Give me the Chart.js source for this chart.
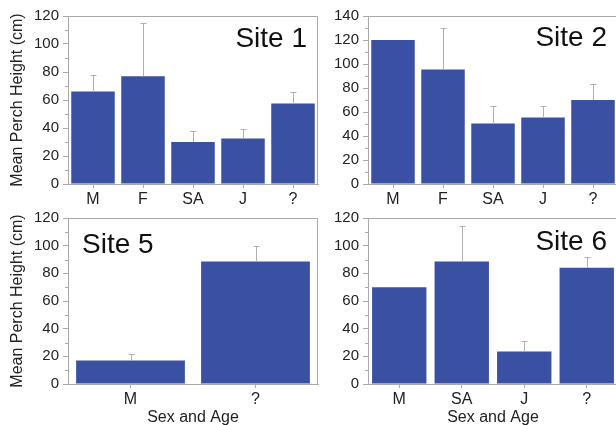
<!DOCTYPE html>
<html>
<head>
<meta charset="utf-8">
<script src="https://cdn.jsdelivr.net/npm/chart.js@4"></script>
<style>
  html, body { margin: 0; padding: 0; background: #fff; overflow: hidden; width: 616px; height: 425px; }
  .panel { position: absolute; }
</style>
</head>
<body>
<div class="panel" style="left:0;top:0"><canvas id="site1" width="320" height="205"></canvas></div>
<div class="panel" style="left:300px;top:0"><canvas id="site2" width="320" height="205"></canvas></div>
<div class="panel" style="left:0;top:205px"><canvas id="site5" width="320" height="222"></canvas></div>
<div class="panel" style="left:300px;top:205px"><canvas id="site6" width="320" height="222"></canvas></div>
<script>
// categories (sex / age class) per site
const site1Labels = ['M', 'F', 'SA', 'J', '?'];
const site2Labels = ['M', 'F', 'SA', 'J', '?'];
const site5Labels = ['M', '?'];
const site6Labels = ['M', 'SA', 'J', '?'];

// mean perch height (cm)
const site1Means = [66, 77, 30, 32.5, 57.5];
const site2Means = [120, 95.5, 50.5, 55.5, 70];
const site5Means = [17, 88.5];
const site6Means = [70, 88.5, 23.5, 84];

// upper error (cm above the mean), null where no bar was drawn
const site1Err = [12, 38, 8, 6.5, 8.5];
const site2Err = [null, 34.5, 14.5, 9.5, 13.5];
const site5Err = [5, 11.5];
const site6Err = [null, 25.5, 7.5, 8];

const yTicks1 = { max: 120, step: 20 };
const yTicks2 = { max: 140, step: 20 };

const FONT = "'Liberation Sans', Arial, sans-serif";
const BAR = '#3a50a2';
const FRAME = '#a9a9a9';

const panelPlugin = {
    id: 'panelExtras',
    afterDatasetsDraw(chart, args, opts) {
        const ctx = chart.ctx;
        const area = chart.chartArea;
        const y = chart.scales.y;
        const meta = chart.getDatasetMeta(0);
        const means = chart.data.datasets[0].data;

        ctx.save();
        // error bars (upper half only)
        ctx.strokeStyle = '#b0b0b0';
        ctx.lineWidth = 1;
        opts.err.forEach((e, i) => {
            if (e == null) return;
            const x = Math.round(meta.data[i].x) + 0.5;
            const y0 = y.getPixelForValue(means[i]);
            const y1 = Math.round(y.getPixelForValue(means[i] + e)) + 0.5;
            ctx.beginPath();
            ctx.moveTo(x, y0);
            ctx.lineTo(x, y1);
            ctx.moveTo(x - 3, y1);
            ctx.lineTo(x + 3, y1);
            ctx.stroke();
        });

        // frame on top and right
        ctx.strokeStyle = FRAME;
        ctx.beginPath();
        ctx.moveTo(area.left, Math.round(area.top) + 0.5);
        ctx.lineTo(Math.round(area.right) - 0.5, Math.round(area.top) + 0.5);
        ctx.lineTo(Math.round(area.right) - 0.5, area.bottom);
        ctx.stroke();

        // minor ticks on the y axis
        for (let v = opts.step / 2; v < y.max; v += opts.step) {
            const py = Math.round(y.getPixelForValue(v)) + 0.5;
            ctx.beginPath();
            ctx.moveTo(area.left - 3, py);
            ctx.lineTo(area.left, py);
            ctx.stroke();
        }

        // site label
        ctx.fillStyle = '#111';
        ctx.font = '28px ' + FONT;
        ctx.textBaseline = 'alphabetic';
        ctx.textAlign = opts.align;
        const tx = opts.align === 'right' ? area.right - 11 : area.left + 14;
        ctx.fillText(opts.site, tx, area.top + opts.dy);
        ctx.restore();
    }
};

function makePanel(id, labels, means, err, yt, site, opts) {
    const yAxis = {
        min: 0,
        max: yt.max,
        border: { color: FRAME },
        grid: { drawOnChartArea: false, tickLength: 5, color: FRAME },
        ticks: { stepSize: yt.step, padding: 4, color: '#222', font: { family: FONT, size: 15 } },
        afterFit(scale) { scale.width = 68; },
        title: {
            display: opts.yTitle,
            text: 'Mean Perch Height (cm)',
            color: '#222',
            font: { family: FONT, size: 16 },
            padding: { top: 8, bottom: 0 }
        }
    };
    const xAxis = {
        offset: true,
        border: { color: FRAME },
        grid: { drawOnChartArea: false, tickLength: 4, color: FRAME, offset: false },
        ticks: { padding: 2, color: '#222', font: { family: FONT, size: 16 } },
        afterFit(scale) { scale.height = opts.xHeight; },
        title: {
            display: opts.xTitle,
            text: 'Sex and Age',
            color: '#222',
            font: { family: FONT, size: 16 },
            padding: { top: 0, bottom: 0 }
        }
    };
    return new Chart(document.getElementById(id).getContext('2d'), {
        type: 'bar',
        data: {
            labels: labels,
            datasets: [{
                data: means,
                backgroundColor: BAR,
                borderWidth: 0,
                barPercentage: 0.87,
                categoryPercentage: 1
            }]
        },
        options: {
            responsive: false,
            animation: false,
            layout: { padding: { top: opts.top, right: 2, left: 0, bottom: 0 } },
            plugins: {
                legend: { display: false },
                tooltip: { enabled: false },
                panelExtras: { err: err, step: yt.step, site: site, align: opts.align, dy: opts.dy }
            },
            scales: { x: xAxis, y: yAxis }
        },
        plugins: [panelPlugin]
    });
}

makePanel('site1', site1Labels, site1Means, site1Err, yTicks1, 'Site 1',
    { yTitle: true, xTitle: false, top: 16, xHeight: 21, align: 'right', dy: 31 });
makePanel('site2', site2Labels, site2Means, site2Err, yTicks2, 'Site 2',
    { yTitle: false, xTitle: false, top: 16, xHeight: 21, align: 'right', dy: 30 });
makePanel('site5', site5Labels, site5Means, site5Err, yTicks1, 'Site 5',
    { yTitle: true, xTitle: true, top: 11, xHeight: 43, align: 'left', dy: 35 });
makePanel('site6', site6Labels, site6Means, site6Err, yTicks1, 'Site 6',
    { yTitle: false, xTitle: true, top: 11, xHeight: 43, align: 'right', dy: 32 });
</script>
</body>
</html>
